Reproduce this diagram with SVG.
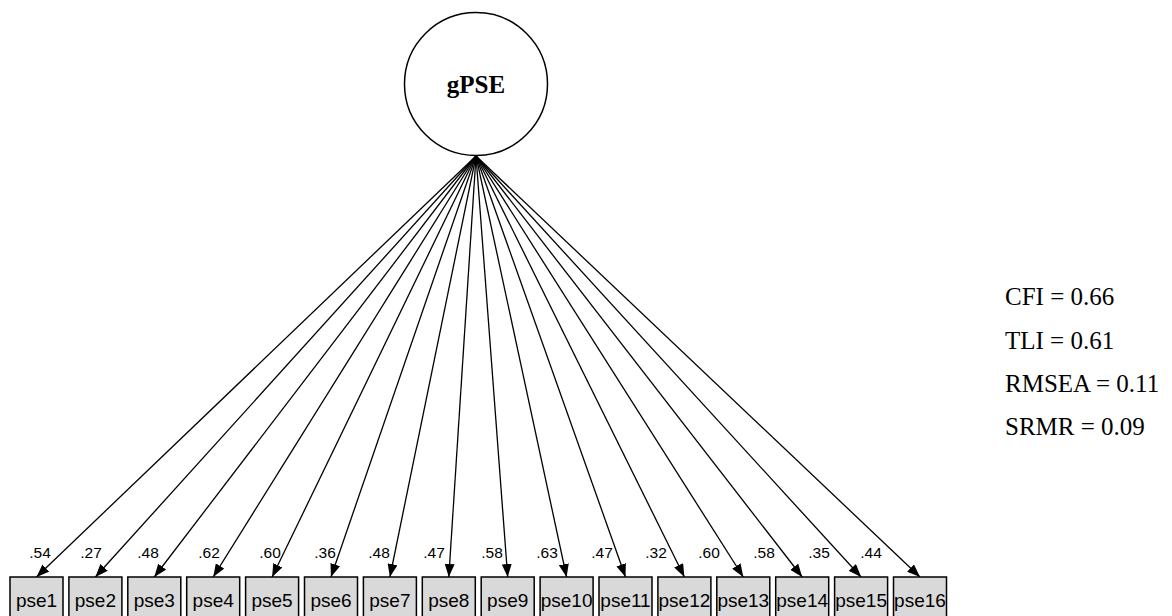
<svg xmlns="http://www.w3.org/2000/svg" width="1172" height="616" viewBox="0 0 1172 616">
  <style>
    .latent { fill: #ffffff; stroke: #000000; stroke-width: 1.5; }
    .latent-label { font-family: "Liberation Serif", "Times New Roman", serif; font-weight: bold; font-size: 25px; text-anchor: middle; fill: #000000; }
    .manifest { fill: #d9d9d9; stroke: #000000; stroke-width: 1.5; }
    .manifest-label { font-family: "Liberation Sans", Arial, sans-serif; font-size: 19px; text-anchor: middle; fill: #000000; }
    .edge { fill: none; stroke: #000000; stroke-width: 1.3; marker-end: url(#arrow); }
    .loading { font-family: "Liberation Sans", Arial, sans-serif; font-size: 15.5px; text-anchor: middle; fill: #000000; }
    .fit { font-family: "Liberation Serif", "Times New Roman", serif; font-size: 25px; fill: #000000; }
  </style>
  <defs>
    <marker id="arrow" viewBox="0 0 13 10" refX="13" refY="5" markerWidth="13" markerHeight="10" markerUnits="userSpaceOnUse" orient="auto">
      <path d="M0,0 L13,5 L0,10 Z" fill="#000000"/>
    </marker>
  </defs>

  <rect width="1172" height="616" fill="#ffffff"/>

  <!-- factor loadings: latent factor to each item -->
  <g id="connectors">
    <line class="edge" x1="476" y1="156" x2="36.5" y2="577"/>
    <line class="edge" x1="476" y1="156" x2="95.4" y2="577"/>
    <line class="edge" x1="476" y1="156" x2="154.3" y2="577"/>
    <line class="edge" x1="476" y1="156" x2="213.2" y2="577"/>
    <line class="edge" x1="476" y1="156" x2="272.1" y2="577"/>
    <line class="edge" x1="476" y1="156" x2="331.0" y2="577"/>
    <line class="edge" x1="476" y1="156" x2="389.9" y2="577"/>
    <line class="edge" x1="476" y1="156" x2="448.8" y2="577"/>
    <line class="edge" x1="476" y1="156" x2="507.7" y2="577"/>
    <line class="edge" x1="476" y1="156" x2="566.6" y2="577"/>
    <line class="edge" x1="476" y1="156" x2="625.5" y2="577"/>
    <line class="edge" x1="476" y1="156" x2="684.4" y2="577"/>
    <line class="edge" x1="476" y1="156" x2="743.3" y2="577"/>
    <line class="edge" x1="476" y1="156" x2="802.2" y2="577"/>
    <line class="edge" x1="476" y1="156" x2="861.1" y2="577"/>
    <line class="edge" x1="476" y1="156" x2="920.0" y2="577"/>
  </g>

  <g id="loadings">
    <text class="loading" x="40" y="558">.54</text>
    <text class="loading" x="91" y="558">.27</text>
    <text class="loading" x="148" y="558">.48</text>
    <text class="loading" x="209" y="558">.62</text>
    <text class="loading" x="270" y="558">.60</text>
    <text class="loading" x="325" y="558">.36</text>
    <text class="loading" x="379" y="558">.48</text>
    <text class="loading" x="434" y="558">.47</text>
    <text class="loading" x="492" y="558">.58</text>
    <text class="loading" x="547" y="558">.63</text>
    <text class="loading" x="602" y="558">.47</text>
    <text class="loading" x="656" y="558">.32</text>
    <text class="loading" x="709" y="558">.60</text>
    <text class="loading" x="764" y="558">.58</text>
    <text class="loading" x="819" y="558">.35</text>
    <text class="loading" x="871" y="558">.44</text>
  </g>

  <g id="gPSE">
    <circle class="latent" cx="476" cy="84" r="71.5"/>
    <text class="latent-label" x="476" y="93">gPSE</text>
  </g>

  <g id="pse1"><rect class="manifest" x="10.0" y="577" width="53" height="46"/><text class="manifest-label" x="36.5" y="607">pse1</text></g>
  <g id="pse2"><rect class="manifest" x="68.9" y="577" width="53" height="46"/><text class="manifest-label" x="95.4" y="607">pse2</text></g>
  <g id="pse3"><rect class="manifest" x="127.8" y="577" width="53" height="46"/><text class="manifest-label" x="154.3" y="607">pse3</text></g>
  <g id="pse4"><rect class="manifest" x="186.7" y="577" width="53" height="46"/><text class="manifest-label" x="213.2" y="607">pse4</text></g>
  <g id="pse5"><rect class="manifest" x="245.6" y="577" width="53" height="46"/><text class="manifest-label" x="272.1" y="607">pse5</text></g>
  <g id="pse6"><rect class="manifest" x="304.5" y="577" width="53" height="46"/><text class="manifest-label" x="331.0" y="607">pse6</text></g>
  <g id="pse7"><rect class="manifest" x="363.4" y="577" width="53" height="46"/><text class="manifest-label" x="389.9" y="607">pse7</text></g>
  <g id="pse8"><rect class="manifest" x="422.3" y="577" width="53" height="46"/><text class="manifest-label" x="448.8" y="607">pse8</text></g>
  <g id="pse9"><rect class="manifest" x="481.2" y="577" width="53" height="46"/><text class="manifest-label" x="507.7" y="607">pse9</text></g>
  <g id="pse10"><rect class="manifest" x="540.1" y="577" width="53" height="46"/><text class="manifest-label" x="566.6" y="607">pse10</text></g>
  <g id="pse11"><rect class="manifest" x="599.0" y="577" width="53" height="46"/><text class="manifest-label" x="625.5" y="607">pse11</text></g>
  <g id="pse12"><rect class="manifest" x="657.9" y="577" width="53" height="46"/><text class="manifest-label" x="684.4" y="607">pse12</text></g>
  <g id="pse13"><rect class="manifest" x="716.8" y="577" width="53" height="46"/><text class="manifest-label" x="743.3" y="607">pse13</text></g>
  <g id="pse14"><rect class="manifest" x="775.7" y="577" width="53" height="46"/><text class="manifest-label" x="802.2" y="607">pse14</text></g>
  <g id="pse15"><rect class="manifest" x="834.6" y="577" width="53" height="46"/><text class="manifest-label" x="861.1" y="607">pse15</text></g>
  <g id="pse16"><rect class="manifest" x="893.5" y="577" width="53" height="46"/><text class="manifest-label" x="920.0" y="607">pse16</text></g>

  <g id="fit-indices">
    <text class="fit" x="1005" y="305">CFI = 0.66</text>
    <text class="fit" x="1005" y="349">TLI = 0.61</text>
    <text class="fit" x="1005" y="392">RMSEA = 0.11</text>
    <text class="fit" x="1005" y="435">SRMR = 0.09</text>
  </g>
</svg>
